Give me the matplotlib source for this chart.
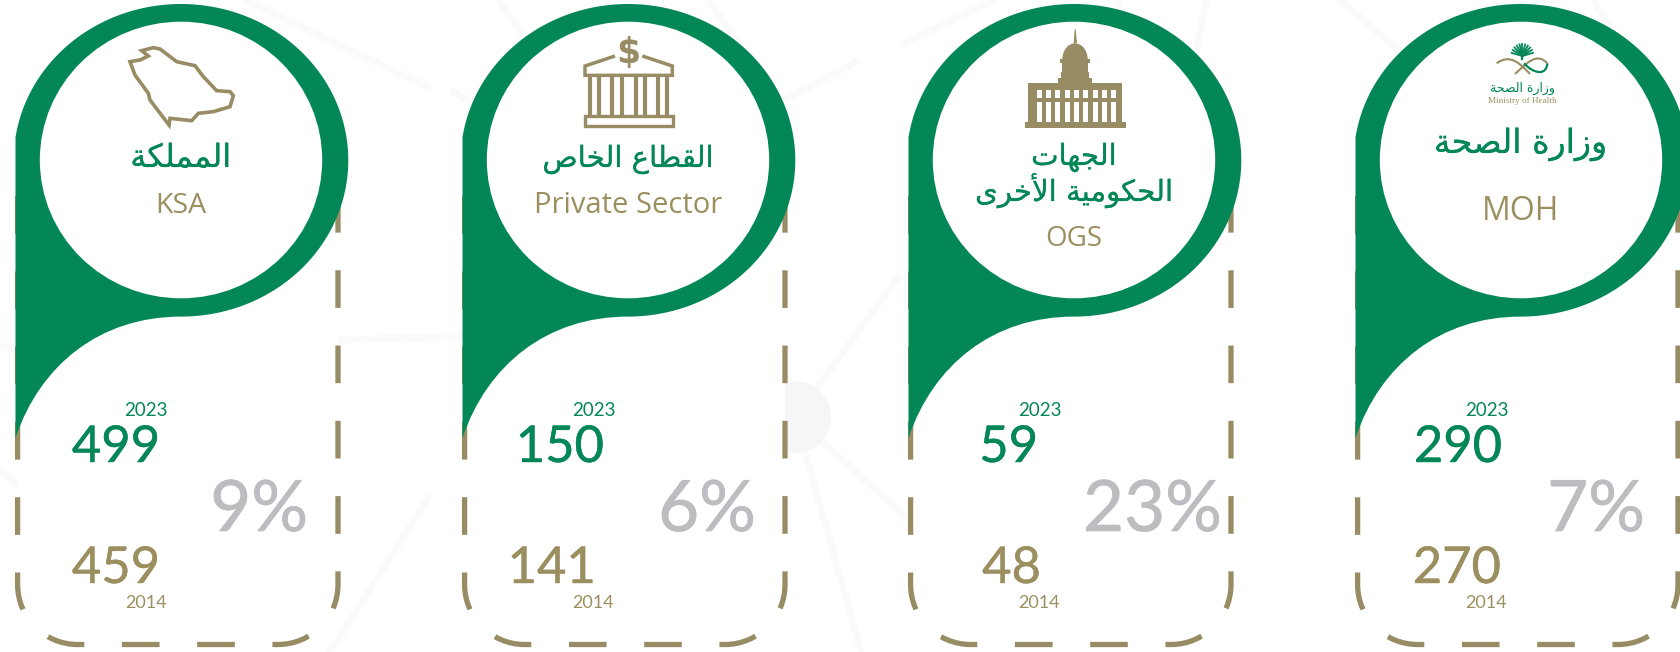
"""
Four KSA / Private Sector / OGS / MOH pin cards, 2023 vs 2014 with % change
"""

import numpy as np
import matplotlib
matplotlib.use("Agg")
import matplotlib.pyplot as plt
import matplotlib.patheffects as pe
from matplotlib.path import Path
from matplotlib.patches import PathPatch, Ellipse, Polygon, Rectangle

plt.rcParams['lines.scale_dashes'] = False
plt.rcParams['font.family'] = ['Lato', 'DejaVu Sans']

# Data
names_ar = [["المملكة"], ["القطاع الخاص"], ["الجهات", "الحكومية الأخرى"], ["وزارة الصحة"]]
names_en = ["KSA", "Private Sector", "OGS", "MOH"]
values_2023 = [499, 150, 59, 290]
values_2014 = [459, 141, 48, 270]
change_pct = [9, 6, 23, 7]

# Layout (picture pixels)
W, H = 1681, 652
CARD_DX = [0, 447, 893, 1340]
right_2023 = [160, 604, 1038, 1502]
right_2014 = [160, 596, 1041, 1501]
right_year_2023 = [168, 616, 1062, 1509]
right_year_2014 = [167, 614, 1060, 1507]
right_pct = [308, 756, 1222, 1645]
base_ar = [[167], [167], [165, 201], [153]]
size_ar = [[23], [21], [21], [24]]
base_en = [213, 213, 246, 220]
size_en = [20.5, 21, 20, 23]

GREEN = '#038756'
TAN = '#978c63'
TAN_TEXT = '#9c8f5f'
GREY = '#bcbdc0'
FAINT = '#fafafa'

# presentation forms: isolated, final, initial, medial
FORMS = {
    'ا': (0xFE8D, 0xFE8E), 'أ': (0xFE83, 0xFE84), 'ة': (0xFE93, 0xFE94),
    'و': (0xFEED, 0xFEEE), 'ر': (0xFEAD, 0xFEAE), 'ى': (0xFEEF, 0xFEF0),
    'ز': (0xFEAF, 0xFEB0),
    'ل': (0xFEDD, 0xFEDE, 0xFEDF, 0xFEE0), 'م': (0xFEE1, 0xFEE2, 0xFEE3, 0xFEE4),
    'ك': (0xFED9, 0xFEDA, 0xFEDB, 0xFEDC), 'ق': (0xFED5, 0xFED6, 0xFED7, 0xFED8),
    'ط': (0xFEC1, 0xFEC2, 0xFEC3, 0xFEC4), 'ع': (0xFEC9, 0xFECA, 0xFECB, 0xFECC),
    'خ': (0xFEA5, 0xFEA6, 0xFEA7, 0xFEA8), 'ص': (0xFEB9, 0xFEBA, 0xFEBB, 0xFEBC),
    'ج': (0xFE9D, 0xFE9E, 0xFE9F, 0xFEA0), 'ه': (0xFEE9, 0xFEEA, 0xFEEB, 0xFEEC),
    'ت': (0xFE95, 0xFE96, 0xFE97, 0xFE98), 'ح': (0xFEA1, 0xFEA2, 0xFEA3, 0xFEA4),
    'ي': (0xFEF1, 0xFEF2, 0xFEF3, 0xFEF4),
}


def shape_ar(text):
    # matplotlib has no shaping, so pick the forms by hand and reverse
    out = []
    i = 0
    while i < len(text):
        c = text[i]
        if c == ' ':
            out.append(c)
            i += 1
            continue
        prev = text[i - 1] if i > 0 else ' '
        joins_prev = prev in FORMS and len(FORMS[prev]) == 4
        if c == 'ل' and text[i + 1:i + 2] == 'أ':
            out.append(chr(0xFEF8 if joins_prev else 0xFEF7))
            i += 2
            continue
        nxt = text[i + 1] if i + 1 < len(text) else ' '
        forms = FORMS[c]
        joins_next = len(forms) == 4 and nxt in FORMS
        if joins_prev and joins_next:
            out.append(chr(forms[3]))
        elif joins_next:
            out.append(chr(forms[2]))
        elif joins_prev:
            out.append(chr(forms[1]))
        else:
            out.append(chr(forms[0]))
        i += 1
    return ''.join(reversed(out))


def heavier(color, width):
    return [pe.withStroke(linewidth=width, foreground=color)]


fig = plt.figure(figsize=(W / 100, H / 100), dpi=100)
ax = fig.add_axes([0, 0, 1, 1])
ax.set_xlim(0, W)
ax.set_ylim(H, 0)
ax.axis('off')

# Faint network behind the cards
bg_lines = [
    [(245, 0), (430, 88)], [(795, 417), (900, 275)], [(795, 417), (915, 525)],
    [(795, 417), (865, 665)], [(335, 340), (470, 336)], [(325, 660), (430, 495)],
    [(0, 347), (20, 347)], [(0, 470), (20, 487)], [(498, 0), (530, 45)],
    [(708, 0), (740, 45)], [(450, 90), (480, 108)], [(780, 102), (860, 60)],
    [(900, 45), (995, 0)], [(1120, 0), (1105, 40)], [(1207, 0), (1192, 70)],
    [(1340, 0), (1410, 60)], [(1593, 0), (1612, 30)],
]
for (x0, y0), (x1, y1) in bg_lines:
    ax.plot([x0, x1], [y0, y1], color=FAINT, lw=5, zorder=1, solid_capstyle='butt')
ax.add_patch(Ellipse((795, 417), 72, 72, color='#f6f6f6', lw=0, zorder=1))


def dashed_frame(dx):
    # starts top right, goes round the bottom and back up the left side
    L, R, B, r, k = 17.6 + dx, 338 + dx, 644.5, 60, 0.5523
    verts = [(R, 195), (R, B - r),
             (R, B - r + k * r), (R - r + k * r, B), (R - r, B),
             (L + r, B),
             (L + r - k * r, B), (L, B - r + k * r), (L, B - r),
             (L, 160)]
    codes = [Path.MOVETO, Path.LINETO,
             Path.CURVE4, Path.CURVE4, Path.CURVE4,
             Path.LINETO,
             Path.CURVE4, Path.CURVE4, Path.CURVE4,
             Path.LINETO]
    return Path(verts, codes)


def pin_path(dx):
    # over the top of the ellipse, clockwise, from the left edge to the bottom
    t = np.linspace(np.radians(171.5), np.radians(-90), 200)
    xs = 181 + 167.3 * np.cos(t) + dx
    ys = 160.3 - 156.3 * np.sin(t)
    verts = list(zip(xs, ys))
    verts[0] = (15.5 + dx, 137)
    codes = [Path.MOVETO] + [Path.LINETO] * (len(verts) - 1)
    # then the concave sweep down to the tail point
    verts += [(100 + dx, 316.6), (40 + dx, 365), (15.5 + dx, 438), (15.5 + dx, 137)]
    codes += [Path.CURVE4, Path.CURVE4, Path.CURVE4, Path.LINETO]
    return Path(verts, codes)


def draw_ksa(dx):
    pts = [(390, 185), (420, 180), (445, 168), (425, 152), (460, 143), (480, 147),
           (530, 185), (585, 197), (610, 230), (650, 272), (690, 275), (700, 287),
           (690, 320), (640, 335), (595, 340), (575, 362), (510, 355), (507, 375),
           (450, 300), (445, 280), (405, 225)]
    xy = [(x / 3 + dx, y / 3) for x, y in pts]
    ax.add_patch(Polygon(xy, closed=True, fill=False, ec=TAN, lw=2.6, joinstyle='miter', zorder=6))


def draw_bank():
    to_x = lambda z: 450 + z / 3
    roof = [(495, 168), (405, 198), (405, 226), (667, 226), (667, 198), (577, 168)]
    ax.plot([to_x(x) for x, y in roof], [y / 3 for x, y in roof], color=TAN, lw=2.5,
            solid_joinstyle='miter', solid_capstyle='butt', zorder=6)
    for zx in [419, 447, 487, 515, 557, 585, 625, 652]:
        ax.plot([to_x(zx)] * 2, [77, 116], color=TAN, lw=3.0, solid_capstyle='butt', zorder=6)
    ax.add_patch(Rectangle((to_x(404), 347 / 3), 264 / 3, 32 / 3, fill=False, ec=TAN, lw=2.4, zorder=6))
    ax.text(to_x(535), 63, '$', color=TAN, fontsize=25, fontweight='bold', ha='center',
            va='baseline', family='DejaVu Sans', zorder=6)


def draw_capitol():
    to_x = lambda z: 900 + z / 3
    def box(x0, y0, x1, y1, color=TAN):
        ax.add_patch(Rectangle((to_x(x0), y0 / 3), (x1 - x0) / 3, (y1 - y0) / 3, color=color, lw=0, zorder=6))
    box(375, 365, 678, 383)
    box(385, 250, 667, 365)
    for i in range(9):
        box(410 + i * 28, 270, 425 + i * 28, 293, 'white')
        box(410 + i * 28, 305, 425 + i * 28, 365, 'white')
    box(475, 235, 575, 250)
    box(484, 215, 566, 235)
    box(486, 188, 564, 215)
    for i in range(6):
        box(497 + i * 10, 190, 502 + i * 10, 213, 'white')
    ax.add_patch(Ellipse((to_x(525), 178 / 3), 76 / 3, 96 / 3, color=TAN, lw=0, zorder=6))
    box(480, 178, 570, 188)
    ax.add_patch(Polygon([(to_x(521), 130 / 3), (to_x(524), 88 / 3), (to_x(527), 88 / 3), (to_x(531), 130 / 3)],
                         color=TAN, lw=0, zorder=6))


def draw_moh_logo():
    to_x = lambda z: 1340 + z / 3
    # palm crown
    cx, cy = to_x(547), 168 / 3
    for a in np.linspace(15, 165, 11):
        ax.plot([cx, cx + 11 * np.cos(np.radians(a))], [cy, cy - 12 * np.sin(np.radians(a))],
                color=GREEN, lw=1.3, zorder=6)
    ax.plot([cx, cx], [cy, 176 / 3], color=GREEN, lw=1.6, zorder=6)
    # swords and swoosh
    curve = [Path.MOVETO, Path.CURVE4, Path.CURVE4, Path.CURVE4]
    sw1 = Path([(to_x(470), 190 / 3), (to_x(510), 160 / 3), (to_x(540), 190 / 3), (to_x(570), 222 / 3)], curve)
    sw2 = Path([(to_x(525), 222 / 3), (to_x(560), 190 / 3), (to_x(590), 155 / 3), (to_x(622), 190 / 3)], curve)
    sw3 = Path([(to_x(622), 190 / 3), (to_x(620), 225 / 3), (to_x(585), 225 / 3), (to_x(552), 190 / 3)], curve)
    ax.add_patch(PathPatch(sw1, fill=False, ec=TAN, lw=1.5, zorder=6))
    ax.add_patch(PathPatch(sw2, fill=False, ec=TAN, lw=1.5, zorder=6))
    ax.add_patch(PathPatch(sw3, fill=False, ec=GREEN, lw=1.6, zorder=6))
    ax.text(to_x(547), 92, shape_ar("وزارة الصحة"), color=GREEN, fontsize=9, ha='center', va='baseline',
            family='DejaVu Sans', zorder=6)
    ax.text(to_x(546), 103, "Ministry of Health", color=TAN_TEXT, fontsize=6.6, ha='center', va='baseline',
            family='Liberation Serif', zorder=6)


for i, dx in enumerate(CARD_DX):
    frame = dashed_frame(dx)
    ax.add_patch(PathPatch(frame, fc='white', ec='none', zorder=2))
    ax.add_patch(PathPatch(frame, fill=False, ec=TAN, lw=3.8, capstyle='butt',
                           linestyle=(0, (27.1, 27.1)), zorder=3))
    ax.add_patch(PathPatch(pin_path(dx), fc=GREEN, ec='none', zorder=4))
    ax.add_patch(Ellipse((181 + dx, 160), 282.4, 276.6, fc='white', ec='none', zorder=5))

    cx = 181 + dx
    for line, y in zip(names_ar[i], base_ar[i]):
        ax.text(cx, y, shape_ar(line), color=GREEN, fontsize=size_ar[i][0], ha='center', va='baseline',
                family='DejaVu Sans', zorder=7, path_effects=heavier(GREEN, 0.15))
    ax.text(cx, base_en[i], names_en[i], color=TAN_TEXT, fontsize=size_en[i], ha='center',
            va='baseline', family='Open Sans', zorder=7)

    ax.text(right_year_2023[i], 416, "2023", color=GREEN, fontsize=13.5, ha='right', va='baseline', zorder=7)
    ax.text(right_2023[i], 462, str(values_2023[i]), color=GREEN, fontsize=36.5, ha='right', va='baseline',
            zorder=7, path_effects=heavier(GREEN, 0.3))
    ax.text(right_2014[i], 583, str(values_2014[i]), color=TAN_TEXT, fontsize=36.5, ha='right', va='baseline',
            zorder=7, path_effects=heavier(TAN_TEXT, 0.3))
    ax.text(right_year_2014[i], 608, "2014", color=TAN_TEXT, fontsize=13, ha='right', va='baseline', zorder=7)
    ax.text(right_pct[i], 531, f"{change_pct[i]}%", color=GREY, fontsize=51, ha='right', va='baseline',
            zorder=7, path_effects=heavier(GREY, 0.5))

draw_ksa(CARD_DX[0])
draw_bank()
draw_capitol()
draw_moh_logo()

plt.savefig("out.png", dpi=100)
plt.close()
